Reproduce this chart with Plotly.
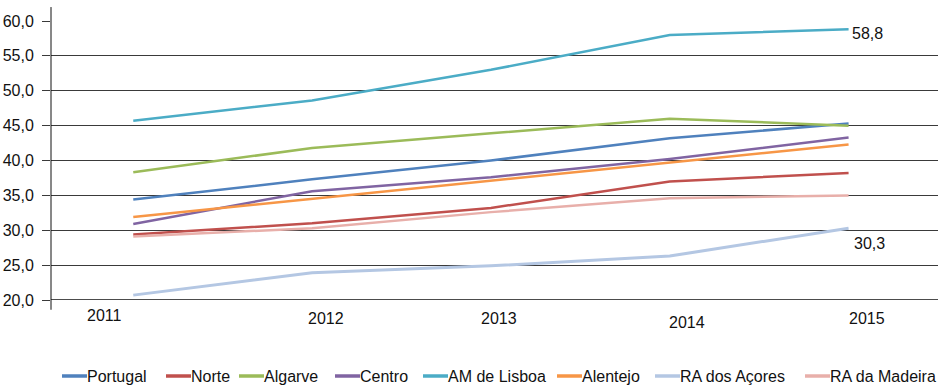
import plotly.graph_objects as go

# Years and regional series
years = [2011, 2012, 2013, 2014, 2015]
year_labels = ["2011", "2012", "2013", "2014", "2015"]

portugal = [34.4, 37.3, 40.0, 43.2, 45.3]
norte = [29.4, 31.0, 33.2, 37.0, 38.2]
algarve = [38.3, 41.8, 43.9, 46.0, 45.0]
centro = [30.9, 35.6, 37.6, 40.2, 43.3]
am_lisboa = [45.7, 48.6, 53.0, 58.0, 58.8]
alentejo = [31.9, 34.5, 37.0, 39.6, 42.3]
ra_acores = [20.7, 23.9, 24.9, 26.3, 30.3]
ra_madeira = [29.1, 30.3, 32.6, 34.6, 35.0]

series_names = ["Portugal", "Norte", "Algarve", "Centro", "AM de Lisboa",
                "Alentejo", "RA dos Açores", "RA da Madeira"]
series_values = [portugal, norte, algarve, centro, am_lisboa,
                 alentejo, ra_acores, ra_madeira]
series_colors = ["#4F81BD", "#C0504D", "#9BBB59", "#8064A2", "#4BACC6",
                 "#F79646", "#B4C7E3", "#E8AFAA"]
series_widths = [2.5, 2.5, 2.5, 2.5, 2.5, 2.5, 3, 2.5]

# Year label offsets (px) under the axis
label_dx = [-28.5, 14, 8.5, 17, 18]
label_dy = [-15, -18, -18, -22, -18]

# Key row: left edge (px) of each entry's swatch
key_left_px = [62, 166, 239, 335, 423, 557, 655, 805]
KEY_SWATCH = 25
KEY_Y_PX = 376

W, H = 943, 386
ML, MR, MT, MB = 51, 5, 21, 86
PW, PH = W - ML - MR, H - MT - MB

FONT = "Liberation Sans, Arial, sans-serif"
TXT = dict(family=FONT, size=16, color="#111111")


def px_to_paper_x(px):
    return (px - ML) / PW


def px_to_paper_y(py):
    return (H - MB - py) / PH


fig = go.Figure()
for name, vals, col, w in zip(series_names, series_values, series_colors, series_widths):
    fig.add_trace(go.Scatter(
        x=years, y=vals, name=name, mode="lines",
        line=dict(color=col, width=w), showlegend=False,
    ))

annotations = []
for yr, lab, dx, dy in zip(years, year_labels, label_dx, label_dy):
    annotations.append(dict(
        x=yr, y=0, xref="x", yref="paper", text=lab, showarrow=False,
        xanchor="center", yanchor="middle", xshift=dx, yshift=dy, font=TXT,
    ))

# End-value labels
annotations.append(dict(
    x=2015, y=am_lisboa[-1], text=f"{am_lisboa[-1]:.1f}".replace(".", ","),
    showarrow=False, xanchor="center", yanchor="middle", xshift=19, yshift=-4,
    font=TXT,
))
annotations.append(dict(
    x=2015, y=ra_acores[-1], text=f"{ra_acores[-1]:.1f}".replace(".", ","),
    showarrow=False, xanchor="center", yanchor="middle", xshift=21, yshift=-15,
    font=TXT,
))

shapes = [
    # vertical axis line extending past the plot area
    dict(type="line", xref="paper", yref="paper", x0=0, x1=0,
         y0=-0.035, y1=1.05, line=dict(color="#111111", width=1)),
    # baseline at 20
    dict(type="line", xref="paper", yref="y", x0=0, x1=1,
         y0=20, y1=20, line=dict(color="#111111", width=1.5)),
]

# Key below the chart: a short coloured stroke followed by the series name
ky = px_to_paper_y(KEY_Y_PX)
for name, col, left in zip(series_names, series_colors, key_left_px):
    shapes.append(dict(
        type="line", xref="paper", yref="paper",
        x0=px_to_paper_x(left), x1=px_to_paper_x(left + KEY_SWATCH),
        y0=ky, y1=ky, line=dict(color=col, width=3.5),
    ))
    annotations.append(dict(
        x=px_to_paper_x(left + KEY_SWATCH), y=ky, xref="paper", yref="paper",
        text=name, showarrow=False, xanchor="left", yanchor="middle",
        xshift=-2, font=TXT,
    ))

fig.update_layout(
    width=W, height=H,
    margin=dict(l=ML, r=MR, t=MT, b=MB, autoexpand=False),
    paper_bgcolor="white", plot_bgcolor="white",
    font=TXT,
    showlegend=False,
    annotations=annotations,
    shapes=shapes,
    xaxis=dict(
        range=[2010.54, 2015.50], showgrid=False, zeroline=False,
        showticklabels=False, ticks="", showline=False, fixedrange=True,
    ),
    yaxis=dict(
        range=[20, 60], tickvals=[20, 25, 30, 35, 40, 45, 50, 55, 60],
        ticktext=["20,0", "25,0", "30,0", "35,0", "40,0", "45,0", "50,0", "55,0", "60,0"],
        showgrid=True, gridcolor="#3a3a3a", gridwidth=1,
        zeroline=False, showline=False,
        ticks="outside", ticklen=8, tickcolor="#3a3a3a", tickwidth=1,
        ticklabelstandoff=5, tickfont=TXT,
    ),
)

fig.write_html("out.html")
